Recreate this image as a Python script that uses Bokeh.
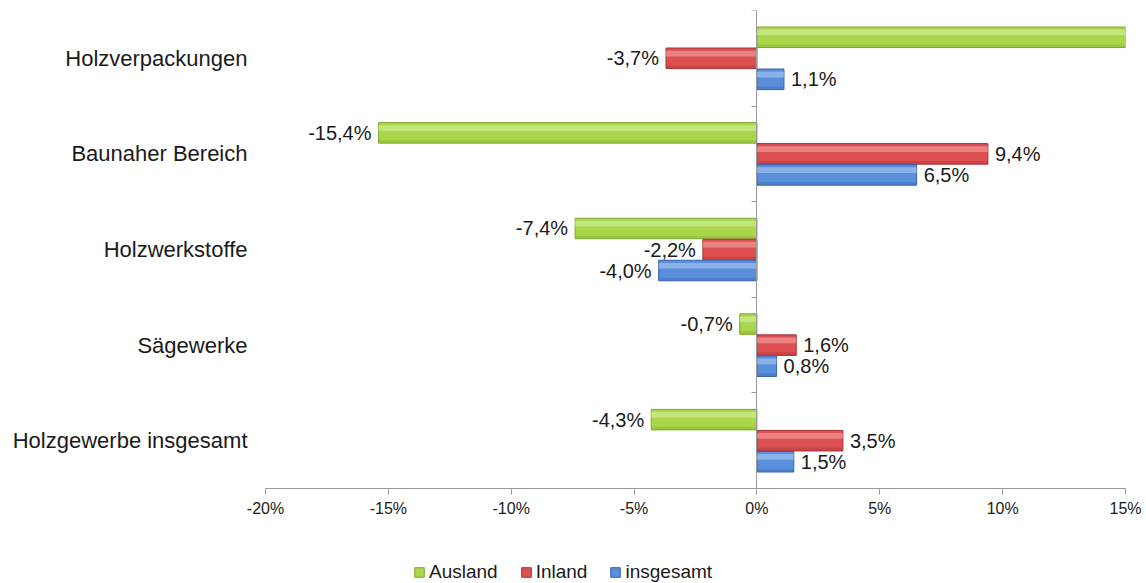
from bokeh.plotting import figure
from bokeh.layouts import column
from bokeh.models import (Range1d, LinearAxis, FixedTicker, Legend,
                          LegendItem, ColumnDataSource)
from bokeh.transform import dodge
from bokeh.core.properties import value
from bokeh.embed import file_html
from bokeh.resources import INLINE

# ---- data ----
categories = ["Holzverpackungen", "Baunaher Bereich", "Holzwerkstoffe",
              "Sägewerke", "Holzgewerbe insgesamt"]
series_names = ["Ausland", "Inland", "insgesamt"]
ausland = [22.0, -15.4, -7.4, -0.7, -4.3]
inland = [-3.7, 9.4, -2.2, 1.6, 3.5]
insgesamt = [1.1, 6.5, -4.0, 0.8, 1.5]
x_ticks = [-20, -15, -10, -5, 0, 5, 10, 15]
x_tick_labels = ["-20%", "-15%", "-10%", "-5%", "0%", "5%", "10%", "15%"]

series_values = [ausland, inland, insgesamt]

# ---- styles ----
FONT = "Liberation Sans"
TXT = "#1a1a1a"
styles = {
    "Ausland":   dict(off=0.22,  fill="#a9d64a", light="#e2f3b4", dark="#80aa2e"),
    "Inland":    dict(off=0.0,   fill="#dc5052", light="#f4b4b4", dark="#a93233"),
    "insgesamt": dict(off=-0.22, fill="#5a8fdc", light="#bcd5f4", dark="#3563a8"),
}
BAR_H = 0.215

n = len(categories)
slot = [n - i - 0.5 for i in range(n)]  # slot centre of each category (top first)

p = figure(width=1146, height=540, output_backend="svg", toolbar_location=None,
           x_range=Range1d(x_ticks[0], x_ticks[-1]), y_range=Range1d(0, n),
           y_axis_type=None,
           min_border_left=265, min_border_right=21, min_border_top=10,
           min_border_bottom=52)
p.outline_line_color = None
p.xgrid.visible = False
p.ygrid.visible = False
p.background_fill_color = "white"
p.border_fill_color = "white"

# x axis
xa = p.xaxis[0]
xa.ticker = FixedTicker(ticks=x_ticks)
xa.major_label_overrides = {t: l for t, l in zip(x_ticks, x_tick_labels)}
xa.axis_line_color = "#9a9a9a"
xa.major_tick_line_color = "#9a9a9a"
xa.major_tick_out = 6
xa.major_tick_in = 0
xa.minor_tick_line_color = None
xa.major_label_text_font = FONT
xa.major_label_text_font_size = "16px"
xa.major_label_text_color = TXT
xa.major_label_standoff = 5

# category labels
ya = LinearAxis(ticker=FixedTicker(ticks=slot),
                major_label_overrides={s: c for s, c in zip(slot, categories)})
ya.axis_line_color = None
ya.major_tick_line_color = None
ya.minor_tick_line_color = None
ya.major_label_text_font = FONT
ya.major_label_text_font_size = "22px"
ya.major_label_text_color = TXT
ya.major_label_standoff = 12
p.add_layout(ya, "left")

# vertical zero axis with category boundary ticks
za = LinearAxis(fixed_location=0,
                ticker=FixedTicker(ticks=list(range(n + 1))),
                major_label_overrides={i: "" for i in range(n + 1)})
za.axis_line_color = "#9a9a9a"
za.major_tick_line_color = "#9a9a9a"
za.major_tick_out = 5
za.major_tick_in = 0
za.minor_tick_line_color = None
za.major_label_text_font_size = "1px"
p.add_layout(za, "left")

# legend strip below the chart (its ranges keep the key bars out of view)
pl = figure(width=1146, height=43, output_backend="svg", toolbar_location=None,
            x_range=Range1d(-1000, -999), y_range=Range1d(1000, 1001),
            x_axis_type=None, y_axis_type=None,
            min_border_left=0, min_border_right=0, min_border_top=0,
            min_border_bottom=0)
pl.outline_line_color = None
pl.xgrid.visible = False
pl.ygrid.visible = False
pl.background_fill_color = "white"
pl.border_fill_color = "white"

legend_items = []
xmin, xmax = x_ticks[0], x_ticks[-1]
for name, vals in zip(series_names, series_values):
    st = styles[name]
    labels = [f"{v:.1f}".replace(".", ",") + "%" for v in vals]
    src = ColumnDataSource(dict(pos=slot, val=vals))
    p.hbar(y=dodge("pos", st["off"]), right="val", left=0,
           height=BAR_H, source=src, fill_color=st["fill"],
           line_color=st["dark"], line_width=1)
    p.hbar(y=dodge("pos", st["off"] + 0.05), right="val", left=0,
           height=0.06, source=src, fill_color=st["light"], fill_alpha=0.5,
           line_color=None)
    p.hbar(y=dodge("pos", st["off"] - 0.09), right="val", left=0,
           height=0.03, source=src, fill_color=st["dark"], fill_alpha=0.35,
           line_color=None)

    key = pl.hbar(y="pos", right="val", left=0, height=0.1, source=src,
                  fill_color=st["fill"], line_color=st["dark"], line_width=1)
    legend_items.append(LegendItem(label=name, renderers=[key]))

    pos = [i for i, v in enumerate(vals) if 0 <= v <= xmax]
    neg = [i for i, v in enumerate(vals) if xmin <= v < 0]
    for idx, align, xo in ((pos, "left", 7), (neg, "right", -7)):
        s = ColumnDataSource(dict(pos=[slot[i] for i in idx],
                                  val=[vals[i] for i in idx],
                                  lab=[labels[i] for i in idx]))
        p.text(x="val", y=dodge("pos", st["off"]), text="lab",
               source=s, text_align=align, text_baseline="middle", x_offset=xo,
               text_font=value(FONT), text_font_size="20px", text_color=TXT)

legend = Legend(items=legend_items, orientation="horizontal",
                location=(148, 0), padding=0, margin=0, spacing=22,
                label_standoff=4, glyph_width=12, glyph_height=12,
                label_text_font=FONT, label_text_font_size="19px",
                label_text_color=TXT, border_line_color=None,
                background_fill_alpha=0)
pl.add_layout(legend, "center")

layout = column(p, pl, spacing=0)
open("out.html", "w").write(file_html(layout, INLINE))
